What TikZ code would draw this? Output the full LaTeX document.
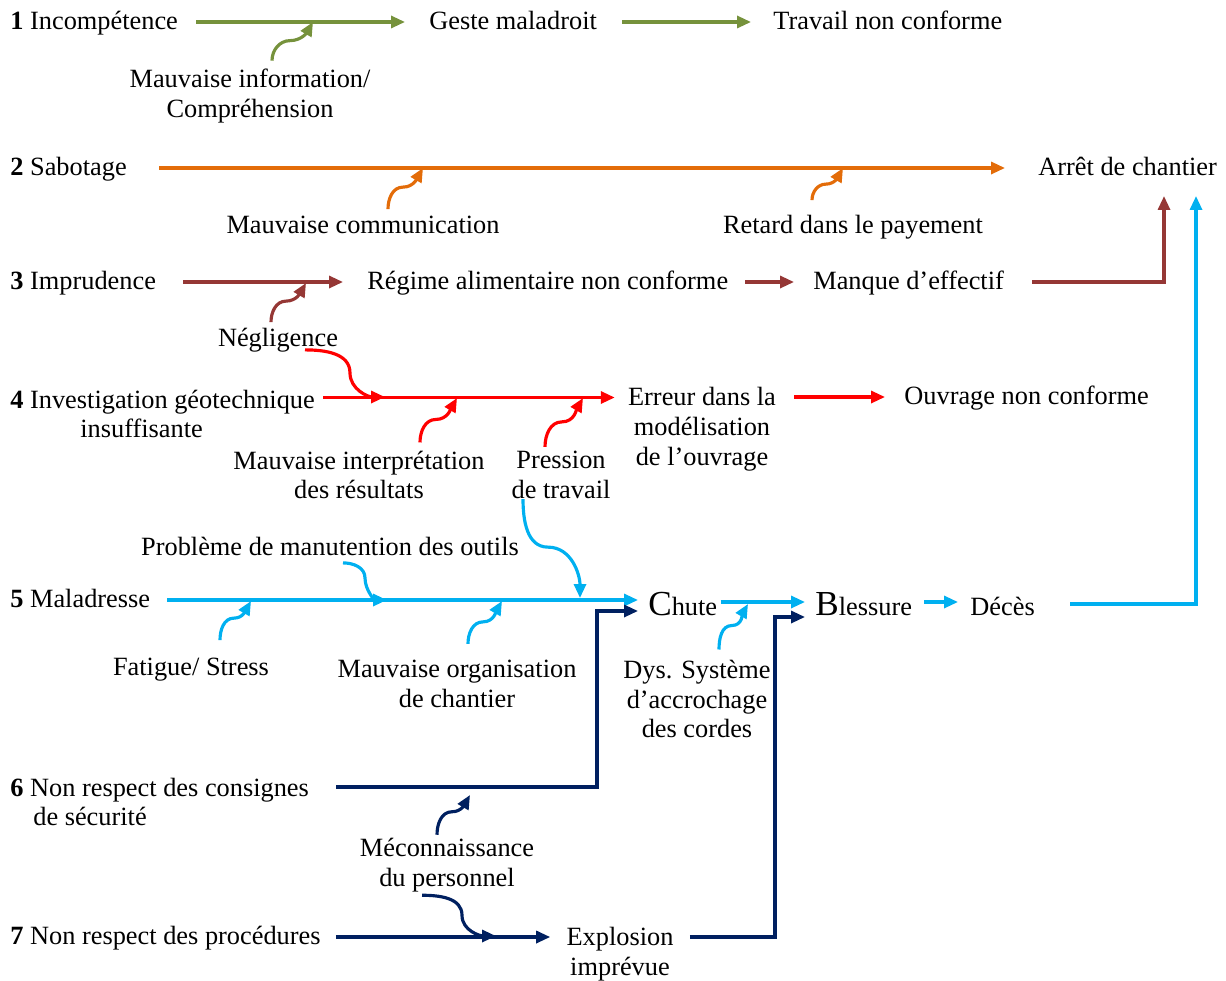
\documentclass[tikz,border=0pt]{standalone}
\usepackage{fontspec}
\setmainfont{Liberation Serif}
\usetikzlibrary{arrows.meta}
\definecolor{lgreen}{RGB}{118,146,60}
\definecolor{orng}{RGB}{227,108,9}
\definecolor{brwn}{RGB}{149,55,53}
\definecolor{sky}{RGB}{0,176,240}
\definecolor{navy}{RGB}{0,32,96}
\begin{document}
\begin{tikzpicture}[x=0.02cm,y=-0.02cm,
  font=\fontsize{15}{17}\selectfont,
  every node/.style={inner sep=0pt},
  txt/.style={anchor=west,text height=1em,text depth=0.2em},
  conn/.style={line width=1.8pt,-{Triangle[length=0.28cm,width=0.24cm]}},
  garr/.style={conn,draw=lgreen},
  oarr/.style={conn,draw=orng},
  barr/.style={conn,draw=brwn},
  rarr/.style={conn,draw=red},
  sarr/.style={conn,draw=sky},
  narr/.style={conn,draw=navy}]
\useasboundingbox (0,0) rectangle (1226,980);
\node[txt] (inc) at (10,22) {\textbf{1} Incompétence};
\node[txt] (geste) at (429,22) {Geste maladroit};
\node[txt] (trav) at (773,22) {Travail non conforme};
\node[align=center] (minf) at (250,96) {Mauvaise information/\\Compréhension};
\coordinate (c1) at (313,22);
\node[txt] (sab) at (10,168) {\textbf{2} Sabotage};
\node[txt] (arret) at (1038,168) {Arrêt de chantier};
\node[txt,anchor=center] (mcom) at (363,226) {Mauvaise communication};
\node[txt,anchor=center] (retard) at (853,226) {Retard dans le payement};
\coordinate (c2) at (423,168);
\coordinate (c3) at (843,168);
\node[txt] (imp) at (10,282) {\textbf{3} Imprudence};
\node[txt] (regime) at (367,282) {Régime alimentaire non conforme};
\node[txt] (manque) at (813,282) {Manque d’effectif};
\node[txt,anchor=center] (negl) at (278,339) {Négligence};
\coordinate (c4) at (306,283);
\coordinate (k1) at (1164,196);
\node[align=left,anchor=west] (inv) at (10,414) {\textbf{4} Investigation géotechnique\\\hspace*{1.4cm}insuffisante};
\node[align=center] (err) at (702,429) {Erreur dans la\\modélisation\\de l’ouvrage};
\node[txt] (ouv) at (904,397) {Ouvrage non conforme};
\node[align=center] (mint) at (359,475) {Mauvaise interprétation\\des résultats};
\node[align=center] (pres) at (561,475) {Pression\\de travail};
\coordinate (c5) at (457,398);
\coordinate (c6) at (583,398);
\coordinate (c7) at (385,397);
\node[txt] (mal) at (10,600) {\textbf{5} Maladresse};
\node[txt] (chute) at (648,608) {{\fontsize{20}{20}\selectfont C}hute};
\node[txt] (bles) at (815,608) {{\fontsize{20}{20}\selectfont B}lessure};
\node[txt] (deces) at (970,608) {Décès};
\node[txt,anchor=center] (probl) at (330,548) {Problème de manutention des outils};
\node[txt,anchor=center] (fat) at (191,668) {Fatigue/ Stress};
\node[align=center] (morg) at (457,684) {Mauvaise organisation\\de chantier};
\node[align=center] (dys) at (697,699) {Dys. Système\\d’accrochage\\des cordes};
\coordinate (c8) at (387,600);
\coordinate (c9) at (580,598);
\coordinate (c10) at (251,601);
\coordinate (c11) at (502,601);
\coordinate (c12) at (748,604);
\coordinate (k2) at (1196,196);
\node[align=left,anchor=west] (nrc) at (10,802) {\textbf{6} Non respect des consignes\\\hspace*{0.46cm}de sécurité};
\node[align=center] (mec) at (447,865) {Méconnaissance\\du personnel};
\coordinate (k3) at (597,611);
\coordinate (c13) at (470,795);
\coordinate (c14) at (496,936);
\node[txt] (nrp) at (10,937) {\textbf{7} Non respect des procédures};
\node[align=center] (expl) at (620,954) {Explosion\\imprévue};
\coordinate (k4) at (775,617);
\draw[garr,shorten <=0.36cm,shorten >=0.48cm] (inc) -- (geste);
\draw[garr,shorten <=0.5cm,shorten >=0.44cm] (geste) -- (trav);
\draw[garr] ([xshift=0.44cm,yshift=0.16cm]minf.north) to[out=90,in=180] ++(0.36cm,0.4cm) to[out=0,in=240] (c1);
\draw[oarr,shorten <=0.64cm,shorten >=0.66cm] (sab) -- (arret);
\draw[oarr] ([xshift=0.5cm,yshift=0.12cm]mcom.north) to[out=90,in=180] ++(0.3cm,0.44cm) to[out=0,in=240] (c2);
\draw[oarr] ([xshift=-0.82cm,yshift=0.3cm]retard.north) to[out=90,in=180] ++(0.28cm,0.32cm) to[out=0,in=240] (c3);
\draw[barr,shorten <=0.54cm,shorten >=0.48cm] (imp) -- (regime);
\draw[barr,shorten <=0.34cm,shorten >=0.38cm] (regime) -- (manque);
\draw[barr,shorten <=0.56cm] (manque) -| (k1);
\draw[barr] ([xshift=-0.14cm,yshift=0.12cm]negl.north) to[out=90,in=180] ++(0.3cm,0.42cm) to[out=0,in=240] (c4);
\draw[rarr] ([xshift=0.54cm]negl.south) to[out=0,in=90] ++(0.9cm,-0.46cm) to[out=-90,in=180] (c7);
\draw[rarr,shorten <=0.16cm,shorten >=0.26cm] ([yshift=0.33cm]inv.east) -- ([yshift=0.33cm]inv.east -| err.west);
\draw[rarr,shorten <=0.36cm,shorten >=0.38cm] (ouv -| err.east) -- (ouv);
\draw[rarr] ([xshift=1.22cm,yshift=0.16cm]mint.north) to[out=90,in=180] ++(0.32cm,0.46cm) to[out=0,in=240] (c5);
\draw[rarr] ([xshift=-0.32cm,yshift=0.08cm]pres.north) to[out=90,in=180] ++(0.34cm,0.5cm) to[out=0,in=240] (c6);
\draw[sarr,shorten <=0.34cm,shorten >=0.2cm] (mal) -- (mal -| chute.west);
\draw[sarr] ([xshift=-0.76cm]pres.south) to[out=-90,in=180] ++(0.5cm,-0.96cm) to[out=0,in=90] (c9);
\draw[sarr] ([xshift=0.26cm,yshift=-0.08cm]probl.south) to[out=0,in=90] ++(0.44cm,-0.3cm) to[out=-90,in=180] (c8);
\draw[sarr] ([xshift=0.58cm,yshift=0.34cm]fat.north) to[out=90,in=180] ++(0.28cm,0.44cm) to[out=0,in=240] (c10);
\draw[sarr] ([xshift=0.22cm,yshift=0.32cm]morg.north) to[out=90,in=180] ++(0.3cm,0.44cm) to[out=0,in=240] (c11);
\draw[sarr] ([xshift=0.44cm,yshift=0.2cm]dys.north) to[out=90,in=180] ++(0.26cm,0.48cm) to[out=0,in=240] (c12);
\draw[sarr,shorten <=0.06cm,shorten >=0.2cm] ([yshift=0.12cm]chute.east) -- ([yshift=0.12cm]bles.west);
\draw[sarr,shorten <=0.24cm,shorten >=0.24cm] ([yshift=0.12cm]bles.east) -- ([yshift=0.12cm]deces.west);
\draw[sarr,shorten <=0.7cm] ([yshift=0.08cm]deces.east) -| (k2);
\draw[narr,shorten <=0.54cm,shorten >=0.2cm] ([yshift=0.3cm]nrc.east) -| (k3) -- (chute.west |- k3);
\draw[narr] ([xshift=-0.2cm,yshift=0.06cm]mec.north) to[out=90,in=180] ++(0.3cm,0.46cm) to[out=0,in=240] (c13);
\draw[narr] ([xshift=-0.5cm,yshift=-0.06cm]mec.south) to[out=0,in=90] ++(0.8cm,-0.4cm) to[out=-90,in=180] (c14);
\draw[narr,shorten <=0.3cm,shorten >=0.32cm] (nrp) -- (nrp -| expl.west);
\draw[narr,shorten <=0.32cm,shorten >=0.2cm] ([yshift=0.34cm]expl.east) -| (k4) -- (bles.west |- k4);
\end{tikzpicture}
\end{document}
